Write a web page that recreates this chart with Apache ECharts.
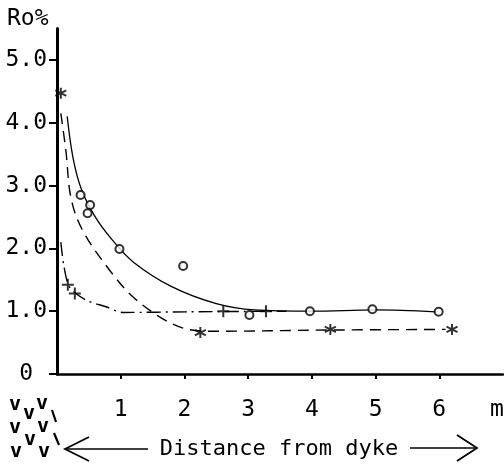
<!DOCTYPE html>
<html>
<head>
<meta charset="utf-8">
<script src="https://cdn.jsdelivr.net/npm/echarts@6/dist/echarts.min.js"></script>
<style>
html,body{margin:0;padding:0;background:#fff;}
#chart{width:504px;height:465px;}
</style>
</head>
<body>
<div id="chart"></div>
<script>
// ---- data ----
const xTicks = [1, 2, 3, 4, 5, 6];
const yTicks = [0, 1, 2, 3, 4, 5];
const circlePoints = [[0.37, 2.85], [0.52, 2.69], [0.48, 2.56], [0.98, 1.99], [1.98, 1.72], [3.02, 0.94], [3.97, 1.0], [4.95, 1.03], [5.99, 0.99]];
const circleCurve = [[0.16, 4.1], [0.25, 3.45], [0.38, 2.95], [0.6, 2.5], [0.87, 2.13], [1.2, 1.78], [1.8, 1.39], [2.5, 1.12], [3.1, 1.02], [4.0, 1.0], [5.0, 1.02], [5.95, 0.99]];
const starPoints = [[0.06, 4.47], [2.25, 0.66], [4.29, 0.71], [6.2, 0.71]];
const starCurve = [[0.06, 4.15], [0.14, 3.55], [0.22, 2.8], [0.4, 2.29], [0.82, 1.66], [1.19, 1.23], [1.61, 0.91], [1.98, 0.73], [2.4, 0.68], [4.3, 0.70], [6.1, 0.71]];
const plusPoints = [[0.17, 1.42], [0.28, 1.28], [2.61, 1.0], [3.28, 1.0]];
const plusCurve = [[0.06, 2.1], [0.11, 1.71], [0.2, 1.38], [0.45, 1.18], [0.77, 1.07], [1.03, 0.98], [2.08, 0.99], [3.6, 1.0]];

const FONT = 'DejaVu Sans Mono';
const chart = echarts.init(document.getElementById('chart'), null, {renderer: 'canvas'});

const vMarks = [[15,405],[29,414],[42,404],[15,428],[43,427],[30,440],[16,452],[44,452]];
const graphics = [
  {type:'text', left:7, top:8, style:{text:'Ro%', font:'23px ' + FONT, fill:'#000'}},
  {type:'text', x:497, y:410, style:{text:'m', font:'23px ' + FONT, fill:'#000', align:'center', verticalAlign:'middle'}},
  {type:'text', x:279, y:449, style:{text:'Distance from dyke', font:'22px ' + FONT, fill:'#000', align:'center', verticalAlign:'middle'}},
  {type:'polyline', shape:{points:[[148,449],[65,449]]}, style:{stroke:'#000', lineWidth:1.6, fill:null}},
  {type:'polyline', shape:{points:[[89,437],[65,449],[89,461]]}, style:{stroke:'#000', lineWidth:1.8, fill:null}},
  {type:'polyline', shape:{points:[[410,448],[477,448]]}, style:{stroke:'#000', lineWidth:1.6, fill:null}},
  {type:'polyline', shape:{points:[[457,435],[477,448],[457,461]]}, style:{stroke:'#000', lineWidth:1.8, fill:null}},
  {type:'line', shape:{x1:52, y1:410, x2:56, y2:422}, style:{stroke:'#000', lineWidth:2.2}},
  {type:'line', shape:{x1:54, y1:433, x2:59, y2:445}, style:{stroke:'#000', lineWidth:2.2}}
];
vMarks.forEach(p => graphics.push({type:'text', x:p[0], y:p[1], style:{text:'v', font:'bold 20px ' + FONT, fill:'#000', align:'center', verticalAlign:'middle'}}));

const plusPath = 'path://M5,0L5,10M0,5L10,5';
const starPath = 'path://M5,0L5,10M0.7,2.5L9.3,7.5M0.7,7.5L9.3,2.5';

chart.setOption({
  backgroundColor: '#fff',
  animation: false,
  grid: {left: 57, right: 1, top: 28.5, bottom: 91, containLabel: false},
  xAxis: {
    type: 'value', min: 0, max: 7, interval: 1,
    axisLine: {show: true, lineStyle: {color: '#000', width: 2.5}},
    axisTick: {show: true, length: 5, lineStyle: {color: '#000', width: 2}, customValues: xTicks},
    axisLabel: {show: true, customValues: xTicks, margin: 25, color: '#000', fontFamily: FONT, fontSize: 23},
    splitLine: {show: false}
  },
  yAxis: {
    type: 'value', min: 0, max: 5.5, interval: 1,
    axisLine: {show: true, lineStyle: {color: '#000', width: 3}},
    axisTick: {show: true, length: 8, lineStyle: {color: '#000', width: 2}, customValues: yTicks},
    axisLabel: {show: true, customValues: yTicks, margin: 10, color: '#000', fontFamily: FONT, fontSize: 23,
      formatter: v => v === 0 ? '0 ' : v.toFixed(1)},
    splitLine: {show: false}
  },
  graphic: graphics,
  series: [
    {type: 'line', data: circleCurve, smooth: 0.35, symbol: 'none', lineStyle: {color: '#000', width: 1.3, type: 'solid'}, z: 2},
    {type: 'line', data: starCurve, smooth: 0.35, symbol: 'none', lineStyle: {color: '#000', width: 1.4, type: [11, 7]}, z: 2},
    {type: 'line', data: plusCurve, smooth: 0.3, symbol: 'none', lineStyle: {color: '#000', width: 1.4, type: [14, 5, 2, 5]}, z: 2},
    {type: 'scatter', data: circlePoints, symbol: 'emptyCircle', symbolSize: 8, itemStyle: {color: '#000', borderColor: '#000', borderWidth: 1.5}, z: 3},
    {type: 'scatter', data: starPoints, symbol: starPath, symbolSize: 11, itemStyle: {color: 'rgba(0,0,0,0)', borderColor: '#000', borderWidth: 2}, z: 3},
    {type: 'scatter', data: plusPoints, symbol: plusPath, symbolSize: 12, itemStyle: {color: 'rgba(0,0,0,0)', borderColor: '#000', borderWidth: 2}, z: 3}
  ]
});
</script>
</body>
</html>
